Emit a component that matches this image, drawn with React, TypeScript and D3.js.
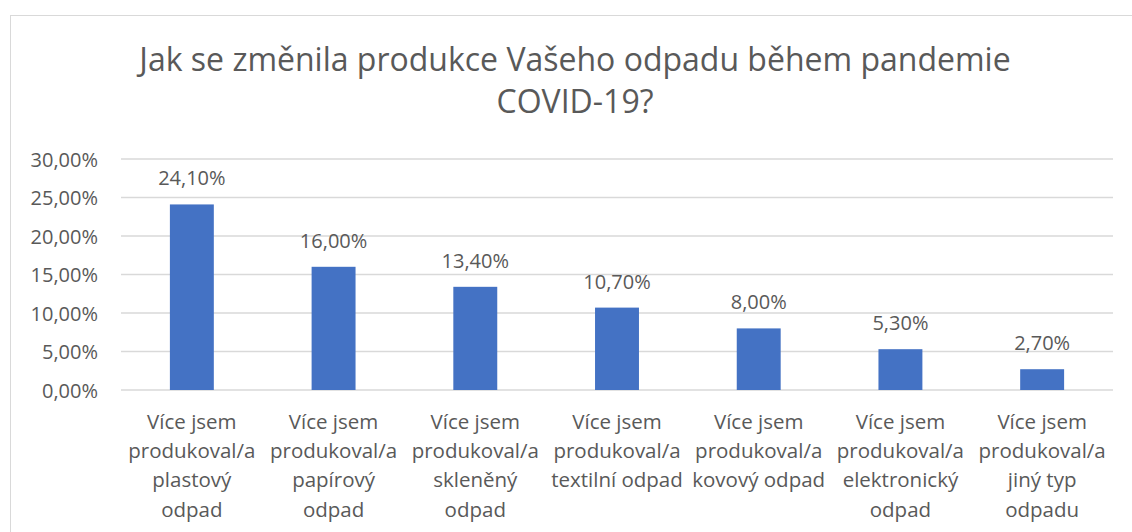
import * as d3 from 'd3';
import React from "react";

const WIDTH = 1132;
const HEIGHT = 532;

const categories = [
    "Více jsem|produkoval/a|plastový|odpad",
    "Více jsem|produkoval/a|papírový|odpad",
    "Více jsem|produkoval/a|skleněný|odpad",
    "Více jsem|produkoval/a|textilní odpad",
    "Více jsem|produkoval/a|kovový odpad",
    "Více jsem|produkoval/a|elektronický|odpad",
    "Více jsem|produkoval/a|jiný typ|odpadu",
];
const values = [24.1, 16.0, 13.4, 10.7, 8.0, 5.3, 2.7];
const yTicks = [0, 5, 10, 15, 20, 25, 30];
const titleLines = ["Jak se změnila produkce Vašeho odpadu během pandemie", "COVID-19?"];

const FONT = "'Open Sans', sans-serif";
const TEXT = "#595959";
const fmt = (v: number) => v.toFixed(2).replace(".", ",") + "%";

const App: React.FC = () => {
    const margin = {left: 121, right: WIDTH - 1113, top: 159, bottom: HEIGHT - 390};

    const x = d3.scaleBand<string>()
        .domain(categories)
        .range([margin.left, WIDTH - margin.right])
        .paddingInner(0.69)
        .paddingOuter(0.345);
    const y = d3.scaleLinear()
        .domain([0, 30])
        .range([HEIGHT - margin.bottom, margin.top]);

    return (
        <svg width={WIDTH} height={HEIGHT} style={{position: "absolute", left: 0, top: 0, background: "#fff"}}>
            <rect x={10.5} y={15.5} width={WIDTH + 20} height={HEIGHT} fill="none" stroke="#d9d9d9"/>
            {titleLines.map((t, i) => (
                <text key={i} x={575} y={71 + i * 42} textAnchor="middle" fontFamily={FONT}
                      fontSize={32} fill={TEXT}>{t}</text>
            ))}
            {yTicks.map(t => (
                <g key={t}>
                    <line x1={margin.left} x2={WIDTH - margin.right} y1={y(t)} y2={y(t)}
                          stroke="#d9d9d9" strokeWidth={1.3}/>
                    <text x={98} y={y(t) + 7.5} textAnchor="end" fontFamily={FONT} fontSize={20}
                          fill={TEXT}>{fmt(t)}</text>
                </g>
            ))}
            {categories.map((c, i) => {
                const cx = x(c)! + x.bandwidth() / 2;
                return (
                    <g key={c}>
                        <rect x={x(c)} y={y(values[i])} width={x.bandwidth()}
                              height={y(0) - y(values[i])} fill="#4472c4"/>
                        <text x={cx} y={y(values[i]) - 19} textAnchor="middle" fontFamily={FONT}
                              fontSize={20} fill={TEXT}>{fmt(values[i])}</text>
                        {c.split("|").map((line, j) => (
                            <text key={j} x={cx} y={429 + j * 29.2} textAnchor="middle" fontFamily={FONT}
                                  fontSize={20.5} fill={TEXT}>{line}</text>
                        ))}
                    </g>
                );
            })}
        </svg>
    );
};

export default App;
